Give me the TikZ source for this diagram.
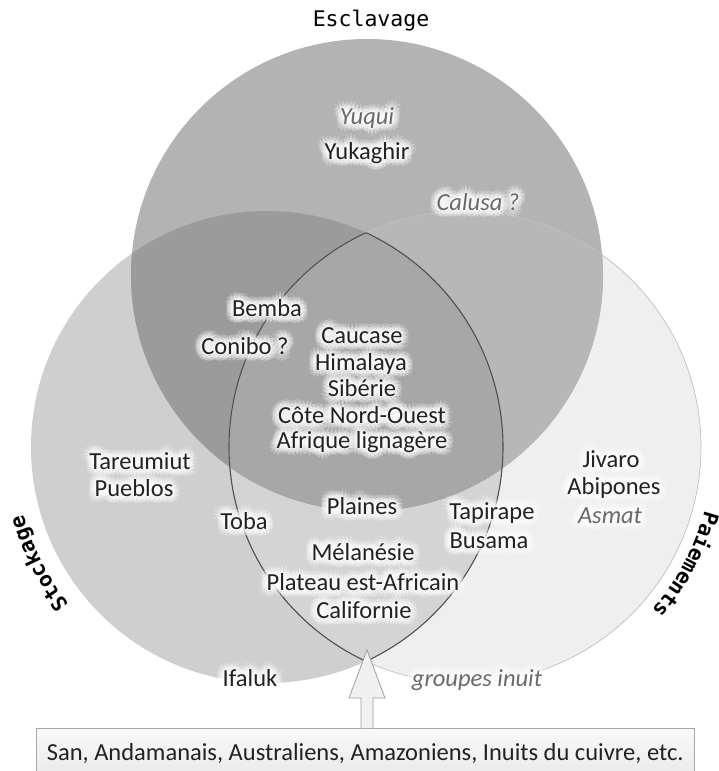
\documentclass[tikz,border=0pt]{standalone}
\usepackage{fontspec}
\setmainfont{Carlito}
\newfontfamily\monof{DejaVu Sans Mono}
\usetikzlibrary{decorations.text}

\definecolor{txt}{HTML}{222222}
\definecolor{itx}{HTML}{6A6A6A}
\definecolor{cright}{HTML}{EFEFEF}
\definecolor{cleft}{HTML}{CFCFCF}
\definecolor{clr}{HTML}{D4D4D4}
\definecolor{ctop}{HTML}{B3B3B3}
\definecolor{ctr}{HTML}{B7B7B7}
\definecolor{ctl}{HTML}{9B9B9B}
\definecolor{ctlr}{HTML}{A7A7A7}
\definecolor{lensline}{HTML}{505050}
\definecolor{redge}{HTML}{C0C0C0}

\newcommand\glowlabel[4][]{%
  \foreach \ga in {0,30,...,330}{\foreach \gr in {1.5,3,4.5,6,7.5}{%
    \node[lab,#1,text=white,text opacity=0.18] at ([shift={(\ga:\gr)}]#3) {#4};}}%
  \node[lab,#1] (#2) at (#3) {#4};}

\begin{document}
\begin{tikzpicture}[x=1pt,y=1pt,
  lab/.style={font=\fontsize{24.5}{26}\selectfont, text=txt, inner sep=0pt,
              text height=0.66em, text depth=0.18em},
  ilab/.style={font=\fontsize{24.5}{26}\selectfont\itshape, text=itx},
  title/.style={font=\fontsize{21.5}{22}\selectfont\monof, text=black, inner sep=0pt},
  lensedge/.style={draw=lensline, line width=1.1pt},
  boxstyle/.style={draw=gray!70, top color=gray!5, bottom color=gray!17,
                   font=\fontsize{24.5}{26}\selectfont, text=txt, inner sep=0pt},
  arrowstyle/.style={draw=gray!75, fill=gray!12, line width=0.8pt, line join=miter}
]
\useasboundingbox (0,0) rectangle (719,-771);
\clip (0,0) rectangle (719,-771);

\def\R{236}
\coordinate (cT) at (367,-275);
\coordinate (cL) at (267,-447);
\coordinate (cR) at (465,-447);

% circles
\fill[cright] (cR) circle (\R);
\fill[cleft] (cL) circle (\R);
\begin{scope}
  \clip (cL) circle (\R);
  \fill[clr] (cR) circle (\R);
\end{scope}
\fill[ctop] (cT) circle (\R);
\begin{scope}
  \clip (cT) circle (\R);
  \fill[ctr] (cR) circle (\R);
  \fill[ctl] (cL) circle (\R);
  \clip (cL) circle (\R);
  \fill[ctlr] (cR) circle (\R);
\end{scope}
\draw[redge, line width=0.7pt] (cR) circle (\R);
\begin{scope}
  \clip (cL) circle (\R);
  \draw[lensedge] (cR) circle (\R);
\end{scope}
\begin{scope}
  \clip (cR) circle (\R);
  \draw[lensedge] (cL) circle (\R);
\end{scope}

% set titles
\node[title] (esclavage) at (371,-21) {Esclavage};
\path[decorate, decoration={text along path, text align=center,
      text={|\fontsize{21}{21}\selectfont\monof\bfseries|Stockage}}]
  (cL) ++(226:253) arc[start angle=226, end angle=188, radius=253];
\path[decorate, decoration={text along path, text align=center,
      text={|\fontsize{21}{21}\selectfont\monof\bfseries|Paiements}}]
  (cR) ++(-7:248) arc[start angle=-7, end angle=-49, radius=248];

% labels
\glowlabel[ilab]{yuqui}{367,-122}{Yuqui}
\glowlabel{yukaghir}{367,-157}{Yukaghir}
\glowlabel[ilab]{calusa}{478,-208}{Calusa ?}
\glowlabel{bemba}{267,-314}{Bemba}
\glowlabel{conibo}{245,-352}{Conibo ?}
\glowlabel{caucase}{362,-341}{Caucase}
\glowlabel{himalaya}{361,-368}{Himalaya}
\glowlabel{siberie}{362,-394}{Sibérie}
\glowlabel{cote}{362,-421}{Côte Nord-Ouest}
\glowlabel{afrique}{362,-446}{Afrique lignagère}
\glowlabel{tareumiut}{140,-467}{Tareumiut}
\glowlabel{pueblos}{134,-494}{Pueblos}
\glowlabel{toba}{244,-527}{Toba}
\glowlabel{plaines}{362,-512}{Plaines}
\glowlabel{tapirape}{492,-517}{Tapirape}
\glowlabel{busama}{489,-546}{Busama}
\glowlabel{melanesie}{363,-558}{Mélanésie}
\glowlabel{plateau}{363,-588}{Plateau est-Africain}
\glowlabel{californie}{364,-616}{Californie}
\glowlabel{jivaro}{611,-465}{Jivaro}
\glowlabel{abipones}{614,-492}{Abipones}
\glowlabel[ilab]{asmat}{610,-521}{Asmat}
\glowlabel{ifaluk}{250,-684}{Ifaluk}
\glowlabel[ilab]{inuit}{477,-684}{groupes inuit}

% bottom box and arrow
\node[boxstyle, minimum width=658, minimum height=50, anchor=north west] (box) at (36,-728)
  {San, Andamanais, Australiens, Amazoniens, Inuits du cuivre, etc.};
\coordinate (tip) at (367,-650);
\coordinate (base) at (box.north -| tip);
\draw[arrowstyle] ([xshift=-6]base) -- ++(0,30) -- ++(-12,0) -- (tip)
  -- ([xshift=18,yshift=30]base) -- ++(-12,0) -- ([xshift=6]base);
\end{tikzpicture}
\end{document}
